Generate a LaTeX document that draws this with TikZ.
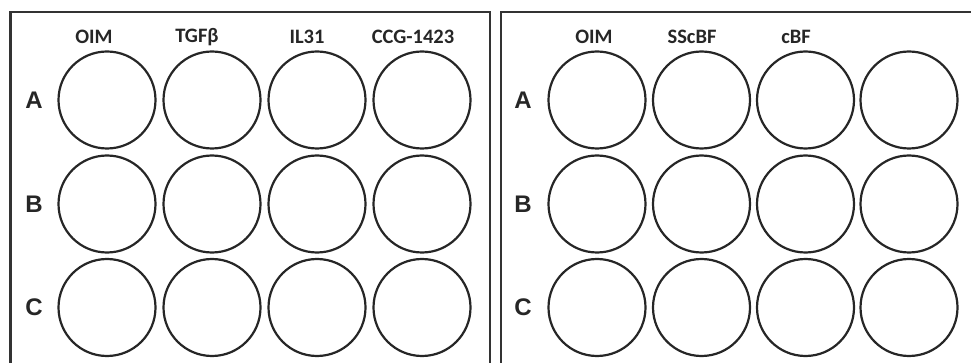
\documentclass[tikz,border=0pt]{standalone}
\usepackage{fontspec}
\setmainfont{Liberation Sans}
\newfontfamily\calfont{Carlito}
\begin{document}
\begin{tikzpicture}[x=1pt,y=-1pt,
  well/.style={circle,draw=black!85,line width=2.2pt,minimum size=97pt,inner sep=0pt},
  frame/.style={draw=black!80,line width=2.4pt},
  rowlab/.style={font=\fontsize{24}{24}\selectfont\bfseries,text=black!85,inner sep=0pt},
  collab/.style={font=\calfont\fontsize{20.5}{20.5}\selectfont\bfseries,text=black!85,inner sep=0pt}]
\useasboundingbox (0,0) rectangle (971,363);
% frames
\draw[frame] (10.5,363) -- (10.5,12) -- (490,12) -- (490,363);
\draw[frame] (501,363) -- (501,12) -- (971,12);
% left plate wells
\foreach \c/\x in {1/107,2/212,3/317,4/422}{
  \foreach \r/\y in {A/100,B/204,C/307.5}{
    \node[well] (L\r\c) at (\x,\y) {};
  }
}
% right plate wells
\foreach \c/\x in {1/597,2/701.5,3/805.5,4/909}{
  \foreach \r/\y in {A/100,B/204,C/307.5}{
    \node[well] (R\r\c) at (\x,\y) {};
  }
}
% row labels
\node[rowlab] (lA) at (34,100) {A};
\node[rowlab] (lB) at (34,204) {B};
\node[rowlab] (lC) at (34,307) {C};
\node[rowlab] (rA) at (523,100) {A};
\node[rowlab] (rB) at (523,204) {B};
\node[rowlab] (rC) at (523,307) {C};
% column labels
\node[collab] (c1) at (94,37) {OIM};
\node[collab] (c2) at (197,37) {TGFβ};
\node[collab] (c3) at (307,37) {IL31};
\node[collab] (c4) at (413,37) {CCG-1423};
\node[collab] (d1) at (594,37) {OIM};
\node[collab] (d2) at (692,37) {SScBF};
\node[collab] (d3) at (796,37) {cBF};
\end{tikzpicture}
\end{document}
